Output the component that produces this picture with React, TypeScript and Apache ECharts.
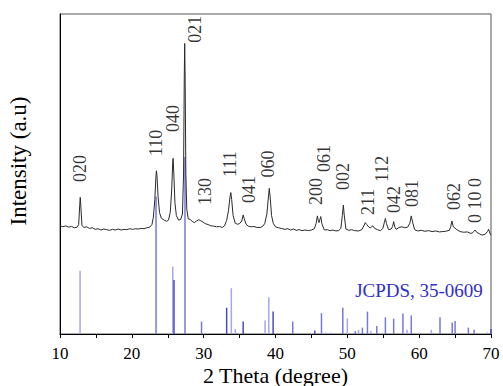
import React, { useEffect, useRef } from "react";
import * as echarts from "echarts";

// XRD pattern (2θ in degrees, intensity in arbitrary units 0-100)
const xrdPattern: [number, number][] = [
  [10.0, 33.9], [10.4, 33.5], [10.8, 33.8], [11.2, 33.4], [11.6, 33.6], [12.0, 33.2], [12.4, 33.4],
  [12.6, 34.2], [12.75, 40.5], [12.82, 42.7], [12.9, 40.0], [13.05, 34.0], [13.3, 33.3], [13.7, 33.5],
  [14.1, 33.0], [14.5, 33.2], [14.9, 32.7], [15.3, 32.9], [15.7, 32.5], [16.1, 32.8], [16.5, 32.6],
  [16.9, 32.4], [17.3, 32.7], [17.7, 32.5], [18.1, 32.8], [18.5, 32.5], [18.9, 32.7], [19.3, 32.6],
  [19.7, 32.9], [20.1, 32.7], [20.5, 32.9], [20.9, 32.8], [21.3, 33.0], [21.7, 32.9], [22.1, 33.2],
  [22.5, 33.4], [22.8, 34.2], [23.0, 36.5], [23.2, 42.0], [23.35, 49.0], [23.42, 51.0], [23.5, 49.5],
  [23.65, 43.0], [23.85, 38.0], [24.1, 36.2], [24.5, 35.6], [24.85, 35.2], [25.1, 35.6], [25.35, 38.0],
  [25.55, 45.0], [25.7, 54.0], [25.75, 54.9], [25.85, 50.0], [26.0, 41.0], [26.2, 37.0], [26.5, 35.6],
  [26.8, 35.8], [27.05, 37.5], [27.2, 50.0], [27.3, 80.0], [27.36, 90.8], [27.42, 80.0], [27.52, 50.0],
  [27.65, 39.0], [27.85, 36.0], [28.1, 35.8], [28.4, 35.2], [28.7, 34.8], [29.0, 35.3], [29.3, 35.7],
  [29.6, 35.4], [29.9, 35.0], [30.2, 34.5], [30.6, 34.2], [31.0, 33.8], [31.4, 33.7], [31.8, 33.5],
  [32.2, 33.6], [32.6, 33.3], [32.9, 33.8], [33.2, 35.5], [33.45, 38.5], [33.65, 42.5], [33.78, 44.2],
  [33.9, 42.0], [34.1, 37.0], [34.4, 34.6], [34.7, 34.3], [35.0, 34.5], [35.3, 35.3], [35.5, 37.2],
  [35.65, 36.0], [35.9, 34.3], [36.2, 33.7], [36.6, 33.5], [37.0, 33.6], [37.4, 33.3], [37.85, 33.3],
  [38.2, 33.6], [38.5, 34.5], [38.8, 37.5], [39.0, 42.5], [39.13, 45.5], [39.25, 43.0], [39.45, 37.0],
  [39.7, 34.5], [40.0, 33.5], [40.4, 33.2], [40.8, 33.0], [41.3, 32.7], [41.7, 32.9], [42.1, 32.5],
  [42.5, 32.8], [42.9, 32.4], [43.3, 32.6], [43.7, 32.3], [44.1, 32.5], [44.6, 32.3], [45.0, 32.5],
  [45.4, 32.9], [45.65, 34.5], [45.83, 36.9], [45.95, 35.5], [46.05, 34.8], [46.18, 35.8], [46.3, 36.7],
  [46.45, 34.5], [46.8, 32.5], [47.2, 32.6], [47.6, 32.3], [48.0, 32.5], [48.4, 32.2], [48.77, 32.3],
  [49.1, 33.0], [49.3, 37.0], [49.45, 40.3], [49.55, 37.5], [49.8, 32.8], [50.2, 32.4], [50.6, 32.6],
  [51.0, 32.3], [51.57, 32.2], [52.0, 32.6], [52.3, 33.8], [52.5, 34.8], [52.7, 34.2], [53.0, 33.4],
  [53.2, 33.2], [53.55, 33.8], [53.8, 33.0], [54.2, 32.6], [54.6, 32.3], [54.95, 33.0], [55.15, 34.8],
  [55.3, 36.1], [55.45, 34.5], [55.75, 32.6], [56.1, 32.8], [56.3, 33.6], [56.45, 35.1], [56.6, 33.5],
  [56.8, 32.7], [57.2, 33.3], [57.6, 33.5], [58.0, 33.2], [58.4, 33.4], [58.7, 34.6], [58.9, 36.9],
  [59.1, 34.8], [59.37, 32.6], [59.8, 32.2], [60.3, 32.4], [60.8, 32.1], [61.3, 32.3], [61.8, 32.0],
  [62.3, 32.2], [62.8, 31.9], [63.2, 32.0], [63.7, 32.1], [64.2, 32.4], [64.4, 33.6], [64.55, 35.3],
  [64.75, 33.5], [65.25, 32.6], [65.7, 32.0], [66.2, 31.8], [66.7, 31.9], [67.1, 31.5], [67.35, 31.5],
  [67.6, 32.0], [67.8, 32.5], [68.0, 31.8], [68.4, 31.3], [68.75, 30.9], [69.2, 31.2], [69.5, 32.0],
  [69.67, 32.7], [69.85, 31.5], [70.0, 30.9],
];

// JCPDS 35-0609 reference sticks [2θ, height]
const sticksDark: [number, number][] = [
  [25.87, 16.9], [33.2, 8.2], [35.5, 3.9], [39.67, 7.0], [45.47, 1.1], [70.0, 1.6],
];
const sticksMid: [number, number][] = [
  [23.37, 43.0], [27.4, 55.3], [29.7, 3.9], [42.4, 3.9], [46.4, 6.5], [49.37, 8.2], [51.1, 0.9],
  [52.1, 2.0], [52.8, 7.0], [54.1, 2.5], [55.3, 5.2], [56.45, 4.8], [57.74, 6.4], [58.9, 5.8],
  [62.9, 5.2], [64.6, 3.6], [65.0, 4.1], [66.85, 2.0], [67.65, 1.3],
];
const sticksLight: [number, number][] = [
  [12.79, 19.8], [25.7, 21.0], [33.85, 14.3], [34.4, 1.5], [38.55, 4.2], [39.07, 11.5], [47.0, 0.5],
  [47.74, 0.5], [50.0, 4.9], [51.55, 1.3], [53.27, 0.9], [58.3, 1.3], [61.7, 1.3], [69.5, 0.5],
];

// Miller index labels [2θ, bottom of label, text]
const peakLabels: [number, number, string][] = [
  [12.75, 47.5, "020"], [23.4, 55.6, "110"], [25.75, 63.1, "040"], [28.8, 91.0, "021"],
  [30.2, 40.3, "130"], [33.6, 49.1, "111"], [36.3, 40.9, "041"], [39.0, 48.9, "060"],
  [45.6, 40.3, "200"], [46.75, 50.6, "061"], [49.4, 45.0, "002"], [52.9, 37.2, "211"],
  [54.83, 47.5, "112"], [56.45, 37.8, "042"], [59.05, 39.7, "081"], [64.8, 38.75, "062"],
  [67.75, 34.7, "0 10 0"],
];

const xTicks = { min: 10, max: 70, step: 5 };
const FONT = "Liberation Serif";

function stickSeries(data: [number, number][], color: string) {
  return {
    type: "custom",
    data,
    z: 2,
    encode: { x: 0, y: 1 },
    renderItem: (_params: any, api: any) => {
      const x = api.value(0);
      const h = api.value(1);
      const p0 = api.coord([x, 0]);
      const p1 = api.coord([x, h]);
      return {
        type: "line",
        shape: { x1: p0[0], y1: p0[1], x2: p1[0], y2: p1[1] },
        style: { stroke: color, lineWidth: 1.5 },
      };
    },
  };
}

export default function App() {
  const ref = useRef<HTMLDivElement>(null);
  useEffect(() => {
    if (!ref.current) return;
    const chart = echarts.init(ref.current, null, { renderer: "svg" });
    chart.setOption({
      animation: false,
      backgroundColor: "#ffffff",
      textStyle: { fontFamily: FONT },
      grid: {
        left: 60,
        right: 12,
        top: 14,
        bottom: 52,
        show: true,
        borderColor: "#555",
        borderWidth: 1,
        outerBoundsMode: "none",
        containLabel: false,
      },
      xAxis: {
        type: "value",
        min: xTicks.min,
        max: xTicks.max,
        interval: xTicks.step,
        name: "2 Theta (degree)",
        nameLocation: "middle",
        nameGap: 30,
        nameMoveOverlap: false,
        nameTextStyle: { fontFamily: FONT, fontSize: 22, color: "#000" },
        axisLine: { lineStyle: { color: "#000", width: 1 } },
        axisTick: { show: true, inside: false, length: 4, lineStyle: { color: "#000" } },
        axisLabel: {
          fontFamily: FONT,
          fontSize: 17,
          color: "#000",
          margin: 11,
          formatter: (v: number) => (v % 10 === 0 ? String(v) : ""),
        },
        splitLine: { show: false },
      },
      yAxis: {
        type: "value",
        min: 0,
        max: 100,
        axisLine: { show: true, lineStyle: { color: "#000", width: 1 } },
        axisTick: { show: false },
        axisLabel: { show: false },
        splitLine: { show: false },
      },
      graphic: [
        {
          type: "text",
          x: 18,
          y: 161,
          rotation: Math.PI / 2,
          style: {
            text: "Intensity (a.u)",
            font: `23px ${FONT}`,
            fill: "#000",
            align: "center",
            verticalAlign: "middle",
            textAlign: "center",
            textVerticalAlign: "middle",
          },
        },
        {
          type: "text",
          x: 419,
          y: 290,
          style: {
            text: "JCPDS, 35-0609",
            font: `19px ${FONT}`,
            fill: "#2f2fd0",
            align: "center",
            verticalAlign: "middle",
            textAlign: "center",
            textVerticalAlign: "middle",
          },
        },
      ],
      series: [
        stickSeries(sticksLight, "#a6a6ee"),
        stickSeries(sticksMid, "#7878de"),
        stickSeries(sticksDark, "#4a4ac8"),
        {
          type: "line",
          data: xrdPattern,
          showSymbol: false,
          z: 5,
          lineStyle: { color: "#2a2a2a", width: 1 },
        },
        {
          type: "scatter",
          data: peakLabels.map((p) => ({ value: [p[0], p[1]], name: p[2] })),
          symbolSize: 0,
          z: 6,
          label: {
            show: true,
            position: [0, 0],
            rotate: 90,
            align: "left",
            verticalAlign: "middle",
            formatter: (p: any) => p.name,
            fontFamily: FONT,
            fontSize: 18,
            color: "#000",
          },
        },
      ],
    });
    return () => chart.dispose();
  }, []);
  return (
    <div
      ref={ref}
      style={{ position: "fixed", left: 0, top: 0, width: 503, height: 386, background: "#fff" }}
    />
  );
}
